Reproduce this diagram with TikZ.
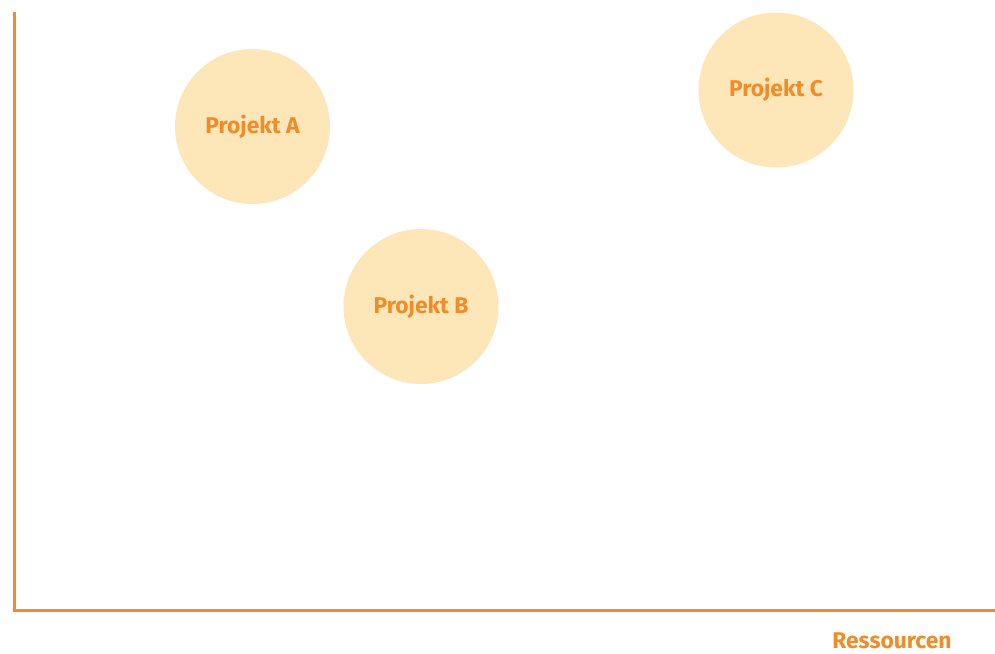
\documentclass[tikz,border=0pt]{standalone}
\usepackage{fontspec}
\setmainfont{Fira Sans}
\definecolor{achse}{HTML}{F28C28}
\definecolor{blase}{HTML}{FDE7B9}
\tikzstyle{projekt}=[circle,fill=blase,minimum size=155pt,inner sep=0pt,
    text=achse,font=\bfseries\fontsize{22.8}{26}\selectfont]
\tikzstyle{achsentext}=[text=achse,inner sep=0pt,anchor=base,
    font=\bfseries\fontsize{22.8}{26}\selectfont]

\begin{document}
\begin{tikzpicture}[x=1pt,y=-1pt]
    \useasboundingbox (0,0) rectangle (995,653);
    % Achsen
    \coordinate (oben) at (14.5,12);
    \coordinate (rechts) at (995,610.5);
    \draw[achse,line width=3pt] (oben) |- (rechts);
    \node[achsentext] (ressourcen) at (892,648.5) {Ressourcen};
    % Projekte
    \node[projekt] (projektA) at (252.5,126.5) {Projekt A};
    \node[projekt] (projektB) at (421,306.5) {Projekt B};
    \node[projekt] (projektC) at (776,90) {Projekt C};
\end{tikzpicture}
\end{document}
